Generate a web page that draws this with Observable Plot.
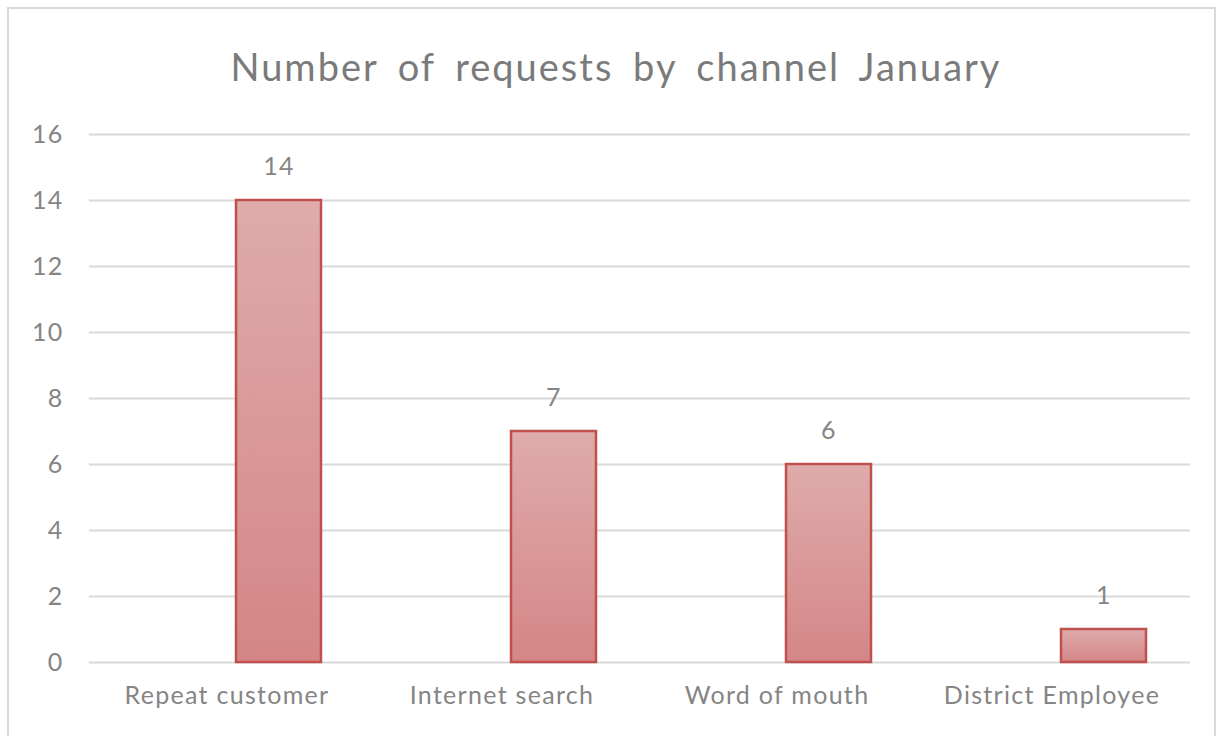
<!DOCTYPE html>
<html>
<head>
<meta charset="utf-8">
<script src="https://cdn.jsdelivr.net/npm/d3@7"></script>
<script src="https://cdn.jsdelivr.net/npm/@observablehq/plot@0.6"></script>
<style>
  html, body { margin: 0; padding: 0; background: #fff; }
  body { width: 1225px; height: 736px; overflow: hidden; position: relative; font-family: Lato, "Open Sans", sans-serif; }
  #frame { position: absolute; left: 7px; top: 7px; width: 1209px; height: 740px; border: 2px solid #d9d9d9; box-sizing: border-box; }
  #title { position: absolute; left: 0; top: 40px; width: 1232px; text-align: center; font-size: 38px; color: #7a7a7a; letter-spacing: 2px; word-spacing: 8px; line-height: 52px; }
  #chart { position: absolute; left: 0; top: 0; }
  #chart svg text { letter-spacing: 1.3px; }
</style>
</head>
<body>
<div id="frame"></div>
<div id="title">Number of requests by channel January</div>
<div id="chart"></div>
<script>
const categories = ["Repeat customer", "Internet search", "Word of mouth", "District Employee"];
const requests = [14, 7, 6, 1];
const yTicks = [0, 2, 4, 6, 8, 10, 12, 14, 16];

const data = categories.map((c, i) => ({channel: c, value: requests[i]}));

const defs = () => {
  const ns = "http://www.w3.org/2000/svg";
  const d = document.createElementNS(ns, "defs");
  const g = document.createElementNS(ns, "linearGradient");
  g.setAttribute("id", "barGrad");
  g.setAttribute("x1", "0"); g.setAttribute("y1", "0");
  g.setAttribute("x2", "0"); g.setAttribute("y2", "1");
  const s1 = document.createElementNS(ns, "stop");
  s1.setAttribute("offset", "0"); s1.setAttribute("stop-color", "#dfabab");
  const s2 = document.createElementNS(ns, "stop");
  s2.setAttribute("offset", "1"); s2.setAttribute("stop-color", "#d48686");
  g.appendChild(s1); g.appendChild(s2); d.appendChild(g);
  return d;
};

const plot = Plot.plot({
  width: 1225,
  height: 736,
  marginTop: 134,
  marginBottom: 74,
  marginLeft: 89,
  marginRight: 35,
  style: {fontFamily: "Lato, sans-serif", fontSize: "25px", color: "#858585", background: "transparent"},
  x: {domain: categories, paddingInner: 0.69, paddingOuter: 0.345, align: 0.771, label: null},
  y: {domain: [0, 16], label: null},
  marks: [
    defs,
    Plot.ruleY(yTicks, {stroke: "#d9d9d9", strokeWidth: 2, strokeOpacity: 1}),
    Plot.barY(data, {x: "channel", y: "value", fill: "url(#barGrad)", stroke: "#c0504d", strokeWidth: 2.5, inset: 0}),
    Plot.text(data, {x: "channel", y: "value", text: d => String(d.value), dy: -34, fill: "#858585", fontSize: 25}),
    Plot.axisY(yTicks, {tickSize: 0, tickPadding: 26, fill: "#858585", fontSize: 25, label: null}),
    Plot.axisX({tickSize: 0, tickPadding: 24, dx: -52, fill: "#858585", fontSize: 25, label: null})
  ]
});
document.getElementById("chart").appendChild(plot);
</script>
</body>
</html>
